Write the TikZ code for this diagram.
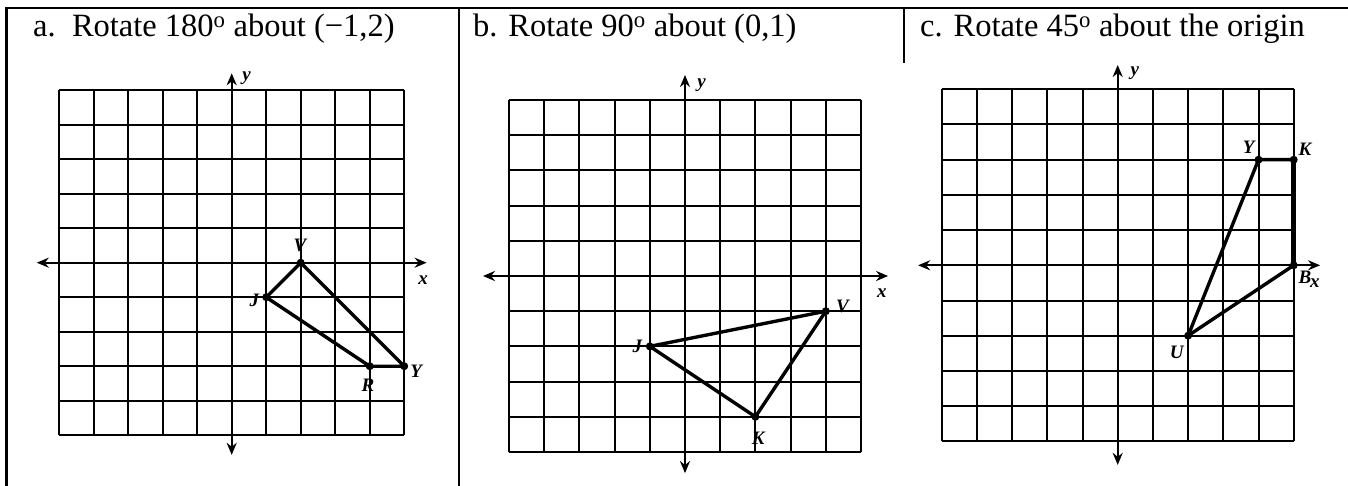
\documentclass[tikz,border=0pt]{standalone}
\usepackage{fontspec}
\setmainfont{Liberation Serif}
\usetikzlibrary{arrows.meta}
\tikzset{
  gridline/.style={line width=2pt, black},
  axisline/.style={line width=2.2pt, {Stealth[length=12pt,width=10pt]}-{Stealth[length=12pt,width=10pt]}},
  edge/.style={line width=3.4pt, line cap=round, line join=round},
  vdot/.style={circle, fill=black, inner sep=0pt, minimum size=8pt},
  lbl/.style={font=\fontsize{19}{19}\selectfont\bfseries\itshape, inner sep=0pt},
  titletext/.style={font=\fontsize{32.5}{32.5}\selectfont, anchor=base west, inner sep=0pt},
  rule/.style={line width=2.5pt}
}
\begin{document}
\begin{tikzpicture}[x=1pt,y=-1pt]
\useasboundingbox (0,0) rectangle (1348,486);
% table rules
\coordinate (tl) at (6.5,8);
\coordinate (tr) at (1348,8);
\coordinate (bl) at (6.5,486);
\coordinate (d1t) at (459,8);
\coordinate (d1b) at (459,486);
\coordinate (d2t) at (904,8);
\coordinate (d2b) at (904,63);
\draw[rule] (tr) -- (tl) -- (bl);
\draw[rule] (d1t) -- (d1b);
\draw[rule] (d2t) -- (d2b);
% titles
\node[titletext] (ta) at (33,37) {a.\ \ Rotate 180\textsuperscript{o} about (−1,2)};
\node[titletext] (tb) at (473,37) {b. Rotate 90\textsuperscript{o} about (0,1)};
\node[titletext] (tc) at (920,37) {c. Rotate 45\textsuperscript{o} about the origin};

% ---------- panel a ----------
\begin{scope}[shift={(231.7pt,-262.7pt)}, x=34.5pt, y=34.5pt]
  \draw[gridline, step=34.5pt] (-5,-5) grid (5,5);
  \coordinate (axl) at (-5.65,0); \coordinate (axr) at (5.65,0);
  \coordinate (ayt) at (0,5.49); \coordinate (ayb) at (0,-5.57);
  \draw[axisline] (axl) -- (axr);
  \draw[axisline] (ayb) -- (ayt);
  \node[lbl] (axlab) at (5.55,-0.5) {x};
  \node[lbl] (aylab) at (0.43,5.35) {y};
  \node[vdot] (aV) at (2,0) {};
  \node[vdot] (aJ) at (1,-1) {};
  \node[vdot] (aR) at (4,-3) {};
  \node[vdot] (aY) at (5,-3) {};
  \draw[edge] (aV.center) -- (aJ.center) -- (aR.center) -- (aY.center) -- cycle;
  \node[lbl] (aVl) at (1.98,0.5) {V};
  \node[lbl] (aJl) at (0.66,-1.08) {J};
  \node[lbl] (aRl) at (3.95,-3.55) {R};
  \node[lbl] (aYl) at (5.35,-3.15) {Y};
\end{scope}

% ---------- panel b ----------
\begin{scope}[shift={(685pt,-276pt)}, x=35.2pt, y=35.2pt]
  \draw[gridline, step=35.2pt] (-5,-5) grid (5,5);
  \coordinate (bxl) at (-5.74,0); \coordinate (bxr) at (5.77,0);
  \coordinate (byt) at (0,5.71); \coordinate (byb) at (0,-5.6);
  \draw[axisline] (bxl) -- (bxr);
  \draw[axisline] (byb) -- (byt);
  \node[lbl] (bxlab) at (5.59,-0.48) {x};
  \node[lbl] (bylab) at (0.47,5.43) {y};
  \node[vdot] (bV) at (4,-1) {};
  \node[vdot] (bJ) at (-1,-2) {};
  \node[vdot] (bK) at (2,-4) {};
  \draw[edge] (bV.center) -- (bJ.center) -- (bK.center) -- cycle;
  \node[lbl] (bVl) at (4.47,-0.87) {V};
  \node[lbl] (bJl) at (-1.35,-2.01) {J};
  \node[lbl] (bKl) at (2.08,-4.6) {K};
\end{scope}

% ---------- panel c ----------
\begin{scope}[shift={(1117.7pt,-265.3pt)}, x=35.2pt, y=35.2pt]
  \draw[gridline, step=35.2pt] (-5,-5) grid (5,5);
  \coordinate (cxl) at (-5.67,0); \coordinate (cxr) at (5.75,0);
  \coordinate (cyt) at (0,5.69); \coordinate (cyb) at (0,-5.67);
  \draw[axisline] (cxl) -- (cxr);
  \draw[axisline] (cyb) -- (cyt);
  \node[lbl] (cxlab) at (5.6,-0.52) {x};
  \node[lbl] (cylab) at (0.49,5.46) {y};
  \node[vdot] (cY) at (4,3) {};
  \node[vdot] (cK) at (5,3) {};
  \node[vdot] (cB) at (5,0) {};
  \node[vdot] (cU) at (2,-2) {};
  \draw[edge] (cU.center) -- (cY.center) -- (cK.center);
  \draw[edge, line width=4.5pt] (cK.center) -- (cB.center);
  \draw[edge] (cB.center) -- (cU.center);
  \node[lbl] (cYl) at (3.72,3.34) {Y};
  \node[lbl] (cKl) at (5.32,3.3) {K};
  \node[lbl] (cBl) at (5.32,-0.33) {B};
  \node[lbl] (cUl) at (1.68,-2.47) {U};
\end{scope}
\end{tikzpicture}
\end{document}
